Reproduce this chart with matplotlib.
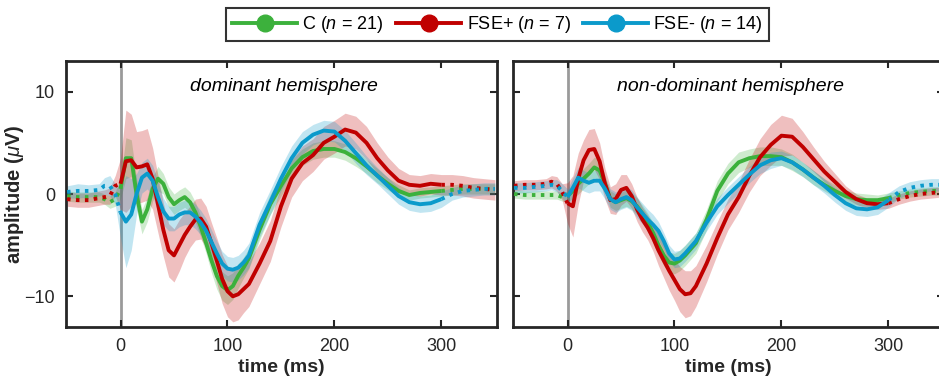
import numpy as np
import matplotlib
matplotlib.use("Agg")
import matplotlib.pyplot as plt
from matplotlib.lines import Line2D

plt.rcParams['font.family'] = ['Liberation Sans', 'DejaVu Sans']
plt.rcParams['mathtext.fontset'] = 'custom'
plt.rcParams['mathtext.it'] = 'Liberation Sans:italic'
plt.rcParams['mathtext.rm'] = 'Liberation Sans'
plt.rcParams['mathtext.bf'] = 'Liberation Sans:bold'

# ---------------- data ----------------
t = [-50, -40, -30, -20, -15, -10, -5,
     0, 5, 10, 15, 20, 25, 30, 35, 40, 45, 50, 55, 60, 65, 70, 75, 80, 85, 90, 95,
     100, 105, 110, 115, 120,
     130, 140, 150, 160, 170, 180, 190, 200, 210, 220, 230, 240, 250, 260, 270,
     280, 290, 300, 310, 320, 330, 340, 350]

groups = ["C", "FSE+", "FSE-"]
group_n = [21, 7, 14]
panel_titles = ["dominant hemisphere", "non-dominant hemisphere"]

# dominant hemisphere
dom_C = [-0.2, -0.3, -0.3, -0.3, -0.5, -0.8, -0.5,
         0.5, 3.5, 3.5, 0.0, -2.7, -1.5, 0.5, 1.5, 1.0, -0.3, -1.0, -0.6, -0.3, -0.8, -1.8, -3.2, -4.8, -6.5, -8.0, -9.0,
         -9.4, -9.0, -8.0, -7.2, -6.3,
         -3.5, -1.0, 0.8, 2.5, 3.6, 4.2, 4.4, 4.4, 4.1, 3.5, 2.7, 1.8, 1.0, 0.3, -0.1,
         0.1, 0.2, 0.3, 0.4, 0.5, 0.5, 0.5, 0.5]
dom_FSEp = [-0.5, -0.6, -0.6, -0.4, -0.3, -0.2, 0.8,
            1.0, 3.2, 3.3, 2.6, 2.7, 2.9, 1.5, -1.0, -3.5, -5.5, -6.0, -5.0, -4.0, -3.2, -2.5, -2.4, -3.2, -4.8, -6.5, -8.3,
            -9.5, -10.0, -9.8, -9.3, -8.8,
            -6.8, -4.6, -1.2, 1.5, 3.0, 3.8, 5.0, 5.6, 6.3, 6.0, 5.0, 3.5, 2.3, 1.3, 0.9,
            0.8, 1.0, 0.9, 0.9, 0.8, 0.6, 0.5, 0.4]
dom_FSEm = [0.2, 0.3, 0.3, 0.4, 0.8, 0.8, 0.0,
            -1.8, -2.7, -2.0, 0.0, 1.6, 2.0, 1.3, -0.3, -1.7, -2.4, -2.4, -2.0, -1.8, -1.8, -2.2, -2.8, -3.6, -4.7, -5.8, -6.8,
            -7.3, -7.4, -7.2, -6.7, -6.0,
            -3.0, -0.8, 1.5, 3.5, 5.0, 5.8, 6.2, 6.1, 5.2, 4.0, 2.8, 1.8, 0.8, -0.2, -0.8,
            -1.0, -0.9, -0.5, 0.0, 0.3, 0.4, 0.5, 0.5]
dom_C_err = [0.5, 0.5, 0.5, 0.5, 0.5, 0.6, 0.7,
             1.0, 2.0, 1.8, 1.5, 1.2, 1.2, 1.2, 1.2, 1.0, 1.0, 1.0, 1.0, 1.0, 1.0, 1.0, 1.0, 1.0, 1.2, 1.3, 1.4,
             1.4, 1.3, 1.2, 1.0, 1.0,
             1.0, 1.0, 1.0, 0.9, 0.8, 0.8, 0.8, 0.8, 0.8, 0.8, 0.7, 0.7, 0.6, 0.6, 0.5,
             0.5, 0.5, 0.5, 0.5, 0.5, 0.5, 0.5, 0.5]
dom_FSEp_err = [0.7, 0.7, 0.7, 0.7, 0.7, 0.8, 1.0,
                2.5, 5.0, 4.5, 3.5, 3.5, 3.5, 3.0, 2.8, 2.6, 2.6, 2.6, 2.5, 2.2, 2.0, 2.0, 2.0, 2.0, 2.0, 2.2, 2.4,
                2.5, 2.5, 2.5, 2.3, 2.2,
                2.0, 2.0, 2.0, 1.8, 1.7, 1.6, 1.6, 1.6, 1.6, 1.6, 1.6, 1.5, 1.3, 1.2, 1.0,
                1.0, 1.0, 1.0, 1.0, 1.0, 1.0, 1.0, 1.0]
dom_FSEm_err = [0.6, 0.7, 0.6, 0.6, 0.8, 1.0, 1.0,
                2.5, 4.5, 3.5, 2.0, 1.5, 1.5, 1.5, 1.5, 1.3, 1.2, 1.2, 1.2, 1.2, 1.2, 1.2, 1.2, 1.2, 1.2, 1.2, 1.2,
                1.2, 1.2, 1.2, 1.2, 1.2,
                1.2, 1.2, 1.2, 1.2, 1.1, 1.0, 1.0, 1.0, 1.0, 1.0, 0.9, 0.8, 0.8, 0.8, 0.8,
                0.8, 0.8, 0.8, 0.6, 0.6, 0.6, 0.6, 0.6]

# non-dominant hemisphere
non_C = [0.0, -0.1, -0.1, -0.1, -0.1, -0.1, -0.3,
         -0.2, 0.3, 1.0, 1.5, 2.0, 2.6, 2.3, 1.0, -0.5, -0.8, -0.6, -0.4, -0.7, -1.2, -1.9, -2.8, -3.8, -5.0, -6.0, -6.7,
         -6.8, -6.5, -6.0, -5.4, -4.8,
         -2.5, 0.3, 2.0, 3.1, 3.5, 3.7, 3.7, 3.6, 3.1, 2.4, 1.6, 0.9, 0.3, -0.2, -0.5,
         -0.6, -0.6, -0.4, -0.1, 0.1, 0.2, 0.3, 0.3]
non_FSEp = [0.8, 0.9, 0.9, 1.0, 1.2, 1.0, 0.2,
            -0.9, -1.2, 1.5, 3.3, 4.3, 4.4, 3.2, 1.0, -0.6, -0.5, 0.4, 0.6, -0.2, -1.5, -2.5, -3.3, -4.3, -5.5, -6.5, -7.5,
            -8.4, -9.3, -9.8, -9.7, -9.0,
            -6.8, -4.3, -2.0, -0.3, 1.8, 3.6, 4.8, 5.7, 5.6, 4.6, 3.4, 2.2, 1.2, 0.2, -0.5,
            -0.9, -1.0, -0.9, -0.5, -0.2, 0.0, 0.1, 0.2]
non_FSEm = [0.6, 0.6, 0.7, 0.8, 0.9, 0.8, 0.3,
            -0.3, 0.6, 1.6, 1.3, 1.1, 1.3, 1.3, 0.5, -0.5, -0.8, -0.5, -0.3, -0.6, -1.3, -1.9, -2.5, -3.0, -3.6, -4.6, -5.8,
            -6.4, -6.3, -5.8, -5.2, -4.6,
            -2.8, -1.2, -0.1, 0.9, 1.9, 2.8, 3.3, 3.5, 3.1, 2.4, 1.6, 0.8, -0.1, -0.9, -1.4,
            -1.5, -1.3, -0.6, 0.2, 0.6, 0.8, 0.9, 0.9]
non_C_err = [0.4, 0.4, 0.4, 0.4, 0.4, 0.4, 0.4,
             0.5, 0.8, 1.0, 1.0, 1.0, 1.0, 1.0, 0.8, 0.8, 0.8, 0.8, 0.8, 0.8, 0.8, 0.8, 0.9, 1.0, 1.0, 1.0, 1.0,
             1.0, 1.0, 1.0, 1.0, 1.0,
             1.0, 1.0, 1.0, 1.0, 0.9, 0.9, 0.9, 0.8, 0.8, 0.7, 0.7, 0.6, 0.6, 0.6, 0.6,
             0.6, 0.5, 0.5, 0.4, 0.4, 0.4, 0.4, 0.4]
non_FSEp_err = [0.5, 0.5, 0.5, 0.5, 0.6, 0.7, 0.8,
                2.0, 3.0, 2.5, 2.0, 2.0, 2.0, 1.8, 1.5, 1.3, 1.5, 1.5, 1.3, 1.2, 1.2, 1.2, 1.2, 1.3, 1.5, 1.7, 1.9,
                2.0, 2.2, 2.3, 2.2, 2.0,
                1.8, 1.6, 1.5, 1.5, 1.6, 1.8, 2.0, 2.0, 1.8, 1.5, 1.2, 1.0, 0.8, 0.6, 0.5,
                0.5, 0.5, 0.5, 0.5, 0.5, 0.5, 0.5, 0.5]
non_FSEm_err = [0.5, 0.5, 0.5, 0.5, 0.5, 0.6, 0.7,
                0.8, 1.0, 1.0, 1.0, 1.0, 1.0, 1.0, 1.0, 1.0, 1.0, 1.0, 1.0, 1.0, 1.0, 1.0, 1.0, 1.0, 0.9, 0.8, 0.8,
                0.8, 0.8, 0.8, 0.8, 0.8,
                0.8, 0.8, 0.8, 0.8, 0.8, 0.8, 0.8, 0.7, 0.7, 0.7, 0.7, 0.7, 0.7, 0.7, 0.7,
                0.7, 0.7, 0.7, 0.6, 0.6, 0.6, 0.6, 0.6]

panels = [
    [(dom_C, dom_C_err), (dom_FSEp, dom_FSEp_err), (dom_FSEm, dom_FSEm_err)],
    [(non_C, non_C_err), (non_FSEp, non_FSEp_err), (non_FSEm, non_FSEm_err)],
]

colors = ["#3cb13c", "#c00000", "#0b9acb"]
solid_start, solid_end = 0, 300

# ---------------- figure ----------------
W, H = 939, 383
fig = plt.figure(figsize=(W / 100, H / 100), dpi=100)

def px_axes(x0, y0, x1, y1):
    return fig.add_axes([x0 / W, 1 - y1 / H, (x1 - x0) / W, (y1 - y0) / H])

axes = [px_axes(66, 61, 497, 327), px_axes(513, 61, 944, 327)]
tt = np.array(t, dtype=float)
dot = (0, (0.9, 1.4))

for i, ax in enumerate(axes):
    ax.axvline(0, color="#9a9a9a", lw=2.0, zorder=1)
    for (mean, err), col in zip(panels[i], colors):
        m = np.array(mean)
        e = np.array(err)
        ax.fill_between(tt, m - e, m + e, color=col, alpha=0.25, lw=0, zorder=2)
    for (mean, err), col in zip(panels[i], colors):
        m = np.array(mean)
        sol = (tt >= solid_start) & (tt <= solid_end)
        pre = tt <= solid_start
        post = tt >= solid_end
        ax.plot(tt[sol], m[sol], color=col, lw=2.8, zorder=4, solid_capstyle='butt')
        ax.plot(tt[pre], m[pre], color=col, lw=2.8, ls=dot, zorder=3)
        ax.plot(tt[post], m[post], color=col, lw=2.8, ls=dot, zorder=3)

    ax.set_xlim(-51, 352)
    ax.set_ylim(-13, 13)
    ax.set_xticks([0, 100, 200, 300])
    ax.set_yticks([-10, 0, 10])
    ax.tick_params(direction="in", top=True, right=True, length=5, width=1.5,
                   labelsize=13, color="#262626", labelcolor="#262626", pad=8)
    for s in ax.spines.values():
        s.set_linewidth(2.0)
        s.set_color("#262626")
    ax.set_xlabel("time (ms)", fontsize=14, fontweight="bold", color="#262626", labelpad=3)
    ax.text(0.505, 0.905, panel_titles[i], transform=ax.transAxes, ha="center", va="center",
            fontsize=14, style="italic", color="black")

axes[1].set_yticklabels([])
axes[0].set_ylabel(r"amplitude ($\mu$V)", fontsize=14.5, fontweight="bold", color="#262626")
axes[0].yaxis.set_label_coords((25.5 - 66) / 431, 0.5)

handles = [Line2D([0], [0], color=c, lw=2.8, marker="o", markersize=12) for c in colors]
labels = [rf"{g} $\mathit{{(n}}$ = $\mathit{{{n})}}$" for g, n in zip(groups, group_n)]
leg = fig.legend(handles, labels, loc="center", bbox_to_anchor=(497.5 / W, 1 - 24.5 / H), ncol=3,
                 fontsize=13, frameon=True, fancybox=False, edgecolor="black",
                 handlelength=3.6, columnspacing=0.7, handletextpad=0.28, borderpad=0.35,
                 borderaxespad=0)
leg.get_frame().set_linewidth(1.5)

fig.savefig("out.png", dpi=100)
